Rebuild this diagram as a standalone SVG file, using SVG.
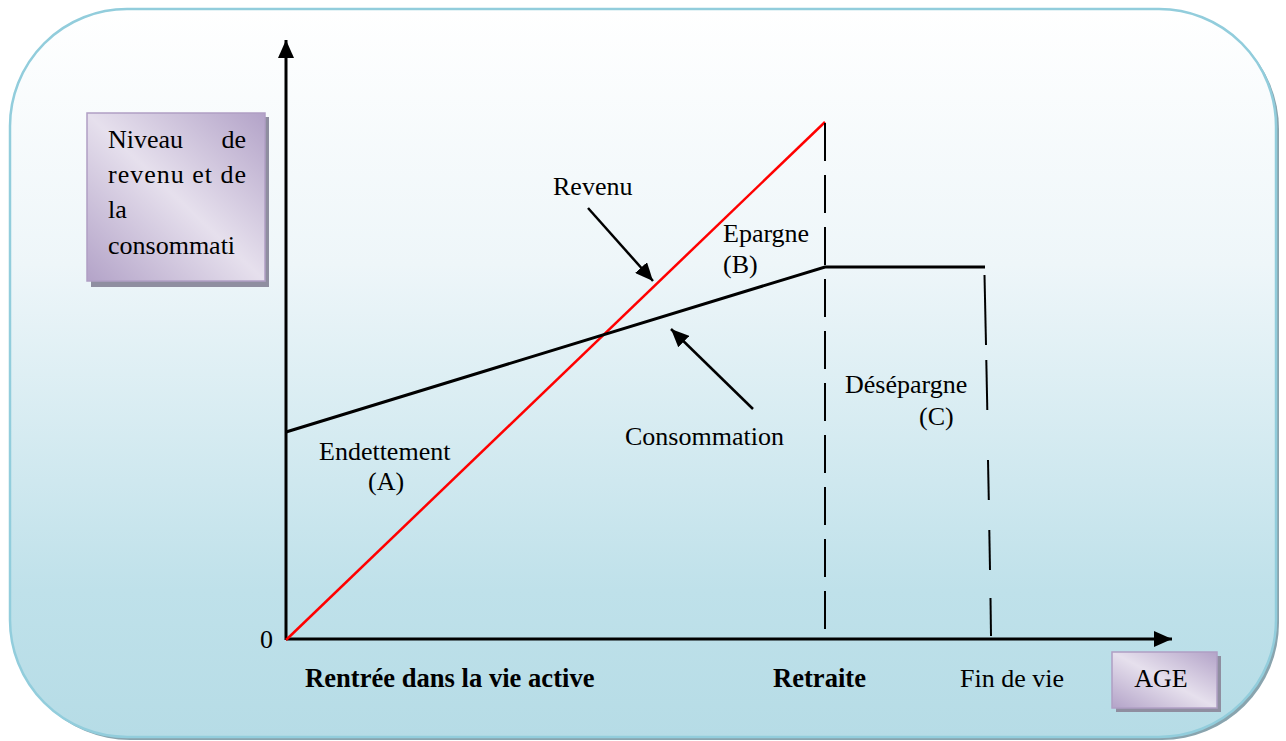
<svg xmlns="http://www.w3.org/2000/svg" width="1286" height="741" viewBox="0 0 1286 741">
<defs>
<linearGradient id="bg" x1="0" y1="0" x2="0" y2="1">
<stop offset="0" stop-color="#ffffff"/>
<stop offset="0.35" stop-color="#eef6f9"/>
<stop offset="0.8" stop-color="#bfe1ea"/>
<stop offset="1" stop-color="#b6dce6"/>
</linearGradient>
<linearGradient id="pur" x1="0" y1="1" x2="1" y2="0">
<stop offset="0" stop-color="#b3a3c8"/>
<stop offset="0.5" stop-color="#e6e0ed"/>
<stop offset="1" stop-color="#b3a3c8"/>
</linearGradient>
<marker id="ah" markerUnits="userSpaceOnUse" markerWidth="18" markerHeight="16" refX="18" refY="8" orient="auto">
<path d="M0,0 L18,8 L0,16 z" fill="#000"/>
</marker>
<style>
.t{font-family:"Liberation Serif","Times New Roman",serif;font-size:26px;fill:#000}
.b{font-weight:bold;font-size:26.6px}
.ax{stroke:#000;stroke-width:3;fill:none}
.dash{stroke:#000;stroke-width:2;fill:none}
.box{fill:url(#pur);stroke:#b09fc4;stroke-width:1.5}
.sh{fill:#8f8ea0}
</style>
</defs>

<g id="frame">
<rect x="13" y="12" width="1266" height="728" rx="117" ry="117" fill="#89a4ae"/>
<rect x="10" y="9" width="1266" height="728" rx="117" ry="117" fill="url(#bg)" stroke="#92cddc" stroke-width="2.5"/>
</g>

<g id="ylabel">
<rect class="sh" x="91" y="117" width="178" height="170"/>
<rect class="box" x="87" y="113" width="178" height="168"/>
<text class="t" x="108" y="148">Niveau</text>
<text class="t" x="246" y="148" text-anchor="end">de</text>
<text class="t" x="108" y="183" textLength="138" lengthAdjust="spacing">revenu et de</text>
<text class="t" x="108" y="218">la</text>
<text class="t" x="108" y="254">consommati</text>
</g>

<g id="xlabel">
<rect class="sh" x="1116" y="656" width="105" height="56"/>
<rect class="box" x="1112" y="652" width="105" height="56"/>
<text class="t" x="1161" y="687" text-anchor="middle">AGE</text>
</g>

<g id="connectors">
<line class="ax" x1="286" y1="640" x2="286" y2="40" marker-end="url(#ah)"/>
<line class="ax" x1="286" y1="639" x2="1172" y2="639" marker-end="url(#ah)"/>
<line x1="286" y1="640" x2="825" y2="122" stroke="#ff0000" stroke-width="2.5"/>
<polyline class="ax" points="286,432 825,267 985,267"/>
<line class="dash" x1="825" y1="123" x2="825" y2="637" stroke-dasharray="38 14"/>
<line class="dash" x1="984.5" y1="275" x2="986" y2="345"/>
<line class="dash" x1="986.3" y1="360" x2="987.3" y2="410"/>
<line class="dash" x1="988" y1="460" x2="988.8" y2="500"/>
<line class="dash" x1="989.3" y1="530" x2="990" y2="570"/>
<line class="dash" x1="990.5" y1="598" x2="991" y2="636"/>
<line stroke="#000" stroke-width="2.5" x1="588" y1="208" x2="653" y2="281" marker-end="url(#ah)"/>
<line stroke="#000" stroke-width="2.5" x1="753" y1="409" x2="671" y2="329" marker-end="url(#ah)"/>
</g>

<g id="revenu"><text class="t" x="553" y="195">Revenu</text></g>
<g id="epargne"><text class="t" x="723" y="242">Epargne</text><text class="t" x="723" y="273">(B)</text></g>
<g id="consommation"><text class="t" x="625" y="445">Consommation</text></g>
<g id="endettement"><text class="t" x="319" y="460">Endettement</text><text class="t" x="368" y="490">(A)</text></g>
<g id="desepargne"><text class="t" x="845" y="393">Désépargne</text><text class="t" x="919" y="425">(C)</text></g>
<g id="origin"><text class="t" x="260" y="648">0</text></g>
<g id="rentree"><text class="t b" x="305" y="687">Rentrée dans la vie active</text></g>
<g id="retraite"><text class="t b" x="773" y="687">Retraite</text></g>
<g id="finvie"><text class="t" x="960" y="687">Fin de vie</text></g>
</svg>
